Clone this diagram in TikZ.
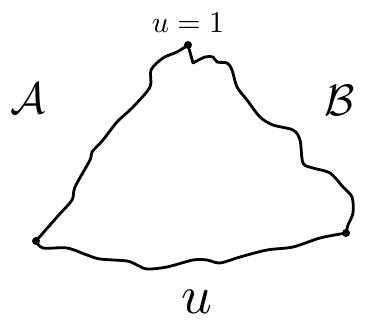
\documentclass[tikz,border=0pt]{standalone}
\usepackage{graphicx}
\usepackage{amsmath}
\begin{document}
\begin{tikzpicture}[x=1pt,y=-1pt,
  edge/.style={line width=2.8pt,line cap=round,line join=round},
  vert/.style={circle,fill=black,inner sep=0pt,minimum size=8pt},
  lab/.style={inner sep=0pt}]
\useasboundingbox (0,0) rectangle (370,326);
\node[vert] (T) at (188,45) {};
\node[vert] (L) at (36,241) {};
\node[vert] (R) at (346,233) {};
% left edge A
\draw[edge] plot[smooth,tension=0.5] coordinates {(T) (177,52) (163,58) (151,70) (150,87) (133,107) (117,122) (103,140) (92,152) (90,160) (75,187) (72,200) (57,217) (L)};
% right edge B
\draw[edge] (T) -- (193,63) plot[smooth,tension=0.5] coordinates {(193,63) (205,57) (213,57) (217,62) (227,63) (232,70) (237,87) (247,100) (260,117) (273,125) (293,130) (300,140) (303,163) (313,168) (330,173) (343,187) (352,197) (353,213) (348,225) (R)};
% bottom edge u
\draw[edge] plot[smooth,tension=0.5] coordinates {(L) (43,248) (67,248) (87,255) (100,259) (127,261) (137,265) (147,269) (167,267) (193,260) (207,260) (220,263) (240,257) (267,250) (293,247) (320,238) (R)};
\node[lab] (ltop) at (188,23) {\scalebox{3}{$u=1$}};
\node[lab] (lA) at (28,98) {\scalebox{4.4}{$\mathcal{A}$}};
\node[lab] (lB) at (340,100) {\scalebox{4.4}{$\mathcal{B}$}};
\node[lab] (lu) at (197,302) {\scalebox{5.4}{$u$}};
\end{tikzpicture}
\end{document}
